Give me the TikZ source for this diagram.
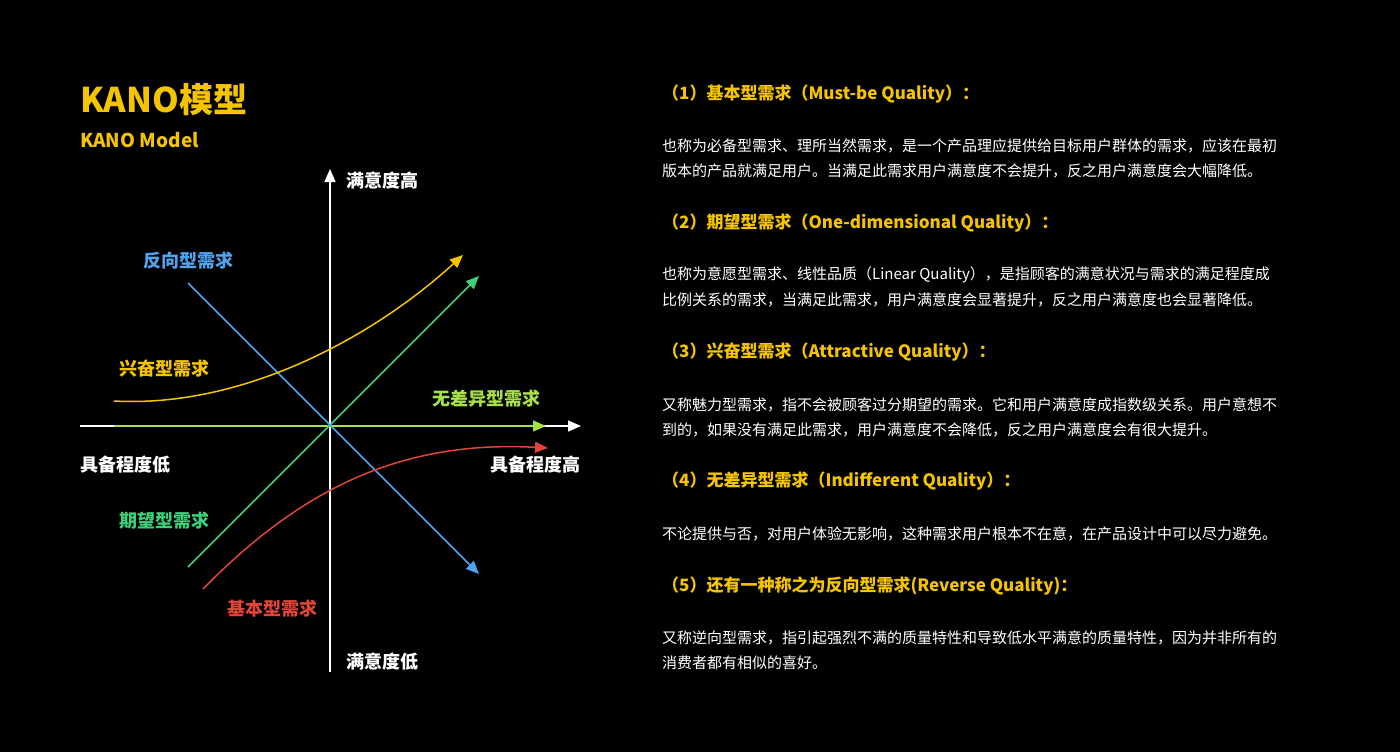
\documentclass[tikz,border=0pt]{standalone}
\usepackage{fontspec}
\setmainfont{Noto Sans CJK SC}
\usetikzlibrary{arrows.meta}
\definecolor{ky}{HTML}{F5C400}
\definecolor{kb}{HTML}{4FA3F0}
\definecolor{kl}{HTML}{A8E04A}
\definecolor{kg}{HTML}{3ECF7A}
\definecolor{kr}{HTML}{E0453A}
\tikzset{
  lbl/.style={font=\fontsize{18}{20}\selectfont\bfseries},
  hd/.style={anchor=west,inner sep=0,text=ky,font=\fontsize{17}{20}\selectfont\bfseries},
  bd/.style={anchor=west,inner sep=0,text=white,font=\fontsize{15}{18}\selectfont},
  ln/.style={line width=1.5pt},
  tip/.style={-{Triangle[length=13pt,width=11pt]}}
}
\begin{document}
\begin{tikzpicture}[x=1pt,y=-1pt]
\fill[black] (0,0) rectangle (1400,752);
\useasboundingbox (0,0) rectangle (1400,752);
\node[anchor=west,inner sep=0,text=ky,font=\fontsize{34}{36}\selectfont\bfseries] (t1) at (80,100) {KANO模型};
\node[anchor=west,inner sep=0,text=ky,font=\fontsize{19}{22}\selectfont\bfseries] (t2) at (80,140) {KANO Model};
% axes
\coordinate (vb) at (330,672); \coordinate (vt) at (330,169);
\coordinate (hl) at (80,426); \coordinate (hr) at (581,426);
\draw[white,ln,tip] (vb) -- (vt);
\draw[white,ln,tip] (hl) -- (hr);
\coordinate (ls) at (114,426); \coordinate (le) at (546,426);
\draw[kl,ln,tip] (ls) -- (le);
\coordinate (bs) at (188,283); \coordinate (be) at (479,574);
\draw[kb,ln,tip] (bs) -- (be);
\coordinate (gs) at (188,567); \coordinate (ge) at (479,276);
\draw[kg,ln,tip] (gs) -- (ge);
\coordinate (ys) at (114,401); \coordinate (ye) at (463,255);
\draw[ky,ln,tip] (ys) .. controls (240,408) and (370,340) .. (ye);
\coordinate (rs) at (203,589); \coordinate (re) at (548,448);
\draw[kr,ln,tip] (rs) .. controls (300,490) and (400,440) .. (re);
% labels
\node[lbl,text=white,anchor=west] (a1) at (343,181) {满意度高};
\node[lbl,text=white,anchor=west] (a2) at (343,662) {满意度低};
\node[lbl,text=white,anchor=west,inner sep=0] (a3) at (80,465) {具备程度低};
\node[lbl,text=white,anchor=east,inner sep=0] (a4) at (581,465) {具备程度高};
\node[lbl,text=kb] (c1) at (188,261) {反向型需求};
\node[lbl,text=ky] (c2) at (164,369) {兴奋型需求};
\node[lbl,text=kl] (c3) at (486,399) {无差异型需求};
\node[lbl,text=kg] (c4) at (164,521) {期望型需求};
\node[lbl,text=kr] (c5) at (272,609) {基本型需求};
% right text
\node[hd] (h1) at (662,94) {（1）基本型需求（Must-be Quality）：};
\node[bd] (b11) at (662,146) {也称为必备型需求、理所当然需求，是一个产品理应提供给目标用户群体的需求，应该在最初};
\node[bd] (b12) at (662,171) {版本的产品就满足用户。当满足此需求用户满意度不会提升，反之用户满意度会大幅降低。};
\node[hd] (h2) at (662,223) {（2）期望型需求（One-dimensional Quality）：};
\node[bd] (b21) at (662,275) {也称为意愿型需求、线性品质（Linear Quality），是指顾客的满意状况与需求的满足程度成};
\node[bd] (b22) at (662,300) {比例关系的需求，当满足此需求，用户满意度会显著提升，反之用户满意度也会显著降低。};
\node[hd] (h3) at (662,352) {（3）兴奋型需求（Attractive Quality）：};
\node[bd] (b31) at (662,405) {又称魅力型需求，指不会被顾客过分期望的需求。它和用户满意度成指数级关系。用户意想不};
\node[bd] (b32) at (662,430) {到的，如果没有满足此需求，用户满意度不会降低，反之用户满意度会有很大提升。};
\node[hd] (h4) at (662,481) {（4）无差异型需求（Indifferent Quality）：};
\node[bd] (b41) at (662,534) {不论提供与否，对用户体验无影响，这种需求用户根本不在意，在产品设计中可以尽力避免。};
\node[hd] (h5) at (662,586) {（5）还有一种称之为反向型需求(Reverse Quality)：};
\node[bd] (b51) at (662,638) {又称逆向型需求，指引起强烈不满的质量特性和导致低水平满意的质量特性，因为并非所有的};
\node[bd] (b52) at (662,663) {消费者都有相似的喜好。};
\end{tikzpicture}
\end{document}
